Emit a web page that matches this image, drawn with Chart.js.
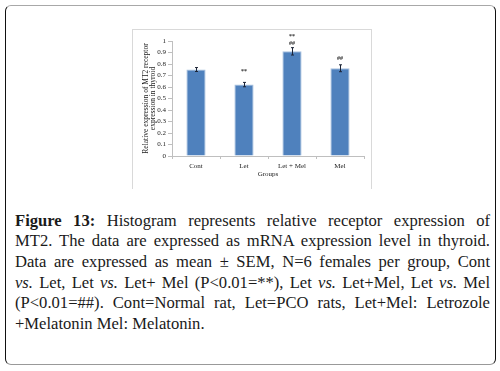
<!DOCTYPE html>
<html>
<head>
<meta charset="utf-8">
<script src="https://cdn.jsdelivr.net/npm/chart.js@4"></script>
<style>
  html, body { margin:0; padding:0; background:#fff; }
  body { width:500px; height:371px; position:relative; overflow:hidden; }
  #outer { position:absolute; left:5px; top:5px; width:491px; height:360px; box-sizing:border-box;
           border:1.5px solid; border-color:#a8a8a8 #111 #999 #111; border-radius:6px; }
  #frame { position:absolute; left:132px; top:29px; width:238px; height:159px;
           border:1px solid #d9d9d9; border-bottom:none; }
  #frame canvas { position:absolute; left:0; top:0; }
  #caption { position:absolute; left:15px; top:210.5px; width:475px;
             font-family:"Liberation Serif","Times New Roman",serif; font-size:16.6px;
             line-height:20.7px; color:#1a1a1a; }
  #caption .l { display:block; text-align:justify; text-align-last:justify; white-space:nowrap; }
  #caption .last { display:block; text-align:left; white-space:nowrap; }
</style>
</head>
<body>
<div id="outer"></div>
<div id="frame"><canvas id="c" width="238" height="159"></canvas></div>
<div id="caption">
  <span class="l"><b>Figure 13:</b> Histogram represents relative receptor expression of</span>
  <span class="l">MT2. The data are expressed as mRNA expression level in thyroid.</span>
  <span class="l">Data are expressed as mean ± SEM, N=6 females per group, Cont</span>
  <span class="l"><i>vs.</i> Let, Let <i>vs.</i> Let+ Mel (P&lt;0.01=**), Let <i>vs.</i> Let+Mel, Let <i>vs.</i> Mel</span>
  <span class="l">(P&lt;0.01=##). Cont=Normal rat, Let=PCO rats, Let+Mel: Letrozole</span>
  <span class="last">+Melatonin Mel: Melatonin.</span>
</div>
<script>
const categories = ["Cont", "Let", "Let + Mel", "Mel"];
const meanValues = [0.752, 0.621, 0.910, 0.763];
const semValues  = [0.017, 0.019, 0.032, 0.030];
const yTicks = [0, 0.1, 0.2, 0.3, 0.4, 0.5, 0.6, 0.7, 0.8, 0.9, 1];
// significance marks: [category index, text, value level where mark sits]
const sigCategory = [1, 2, 2, 3];
const sigText     = ["**", "##", "**", "##"];
const sigLevel    = [0.737, 0.983, 1.04, 0.850];

const serif = "'Liberation Serif','Times New Roman',serif";

const errorBarPlugin = {
  id: 'errorBars',
  afterDatasetsDraw(chart) {
    const ctx = chart.ctx;
    const meta = chart.getDatasetMeta(0);
    const y = chart.scales.y;
    ctx.save();
    ctx.strokeStyle = '#1c2436';
    ctx.lineWidth = 1;
    meta.data.forEach((bar, i) => {
      const x = Math.round(bar.x) + 0.5;
      const yt = y.getPixelForValue(meanValues[i] + semValues[i]);
      const yb = y.getPixelForValue(meanValues[i] - semValues[i]);
      ctx.beginPath();
      ctx.moveTo(x, yt); ctx.lineTo(x, yb);
      ctx.moveTo(x - 1.5, yt); ctx.lineTo(x + 1.5, yt);
      ctx.moveTo(x - 1.5, yb); ctx.lineTo(x + 1.5, yb);
      ctx.stroke();
    });
    ctx.fillStyle = '#333';
    ctx.font = "bold 6px " + serif;
    ctx.textAlign = 'center';
    ctx.textBaseline = 'middle';
    sigCategory.forEach((ci, k) => {
      const bar = meta.data[ci];
      ctx.fillText(sigText[k], bar.x, y.getPixelForValue(sigLevel[k]));
    });
    ctx.restore();
  }
};

new Chart(document.getElementById('c'), {
  type: 'bar',
  data: {
    labels: categories,
    datasets: [{
      data: meanValues,
      backgroundColor: '#4f81bd',
      borderColor: '#a9c1df',
      borderWidth: 1,
      barPercentage: 0.8,
      categoryPercentage: 0.5
    }]
  },
  options: {
    responsive: false,
    animation: false,
    devicePixelRatio: 1,
    layout: { padding: { left: 0, right: 7, top: 11, bottom: 0 } },
    plugins: { legend: { display: false }, tooltip: { enabled: false } },
    scales: {
      x: {
        grid: { display: true, drawOnChartArea: false, drawTicks: true, tickLength: 3, color: '#bfbfbf', offset: true },
        border: { display: true, color: '#bfbfbf' },
        ticks: { color: '#222', font: { family: serif, size: 7 }, padding: 2.5, maxRotation: 0 },
        title: { display: true, text: 'Groups', color: '#222', font: { family: serif, size: 7 }, padding: { top: 0, bottom: 10.8 } },
        afterFit(s) { s.height = 33; }
      },
      y: {
        min: 0, max: 1,
        afterBuildTicks(s) { s.ticks = yTicks.map(v => ({ value: v })); },
        grid: { display: true, drawOnChartArea: false, drawTicks: true, tickLength: 4, color: '#bfbfbf' },
        border: { display: true, color: '#bfbfbf' },
        ticks: { color: '#222', font: { family: serif, size: 7 }, padding: 2, callback: v => String(v) },
        title: { display: true, text: ['Relative expression of MT2 receptor', 'expression in thyroid'],
                 color: '#222', font: { family: serif, size: 7.5, lineHeight: '7px' }, padding: { top: 9.2, bottom: 0 } },
        afterFit(s) { s.width = 39; }
      }
    }
  },
  plugins: [errorBarPlugin]
});
</script>
</body>
</html>
